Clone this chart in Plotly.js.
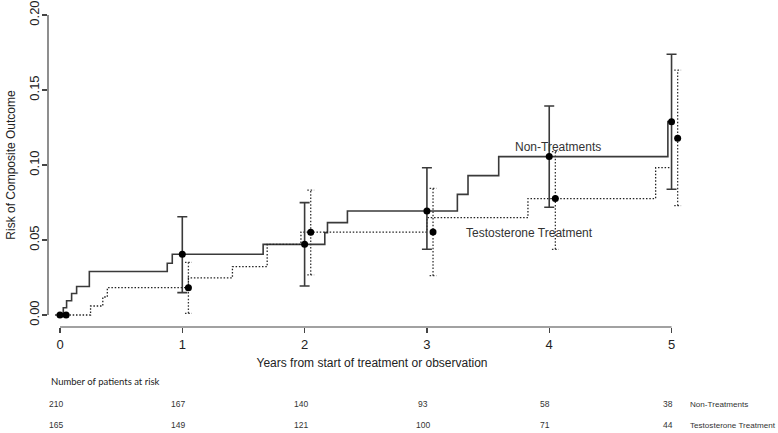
<!DOCTYPE html>
<html>
<head>
<meta charset="utf-8">
<script src="https://cdn.plot.ly/plotly-3.0.1.min.js"></script>
<style>html,body{margin:0;padding:0;background:#fff;}#chart{width:778px;height:433px;}</style>
</head>
<body>
<div id="chart"></div>
<script>
// Step curves (cumulative risk)
var nonStepTime  = [0, 0.027, 0.054, 0.095, 0.136, 0.24, 0.877, 0.918, 1.661, 2.165, 2.187, 2.35, 3.249, 3.336, 3.587, 4.97, 5.0];
var nonStepRisk  = [0, 0.0048, 0.0095, 0.0143, 0.019, 0.029, 0.0345, 0.0405, 0.0471, 0.0549, 0.0616, 0.0693, 0.0804, 0.0929, 0.1056, 0.1289, 0.1289];
var testStepTime = [0.05, 0.25, 0.35, 0.387, 1.05, 1.41, 1.694, 1.97, 3.0, 3.826, 4.87, 5.0];
var testStepRisk = [0, 0.006, 0.012, 0.0182, 0.0248, 0.0322, 0.0471, 0.0553, 0.0649, 0.0776, 0.0982, 0.0982];

// Yearly point estimates with confidence intervals
var nonTime  = [0, 1, 2, 3, 4, 5];
var nonEst   = [0, 0.0405, 0.0471, 0.0693, 0.1056, 0.1289];
var nonLo    = [0, 0.0149, 0.0193, 0.0438, 0.0718, 0.0838];
var nonHi    = [0, 0.0655, 0.0749, 0.0982, 0.1393, 0.1738];
var testTime = [0.05, 1.05, 2.05, 3.05, 4.05, 5.05];
var testEst  = [0, 0.0182, 0.0551, 0.0553, 0.0776, 0.1178];
var testLo   = [0, 0.0011, 0.0267, 0.0262, 0.0438, 0.0729];
var testHi   = [0, 0.0351, 0.0833, 0.0844, 0.1089, 0.1633];

// Risk table
var riskYears   = [0, 1, 2, 3, 4, 5];
var atRiskNon   = [210, 167, 140, 93, 58, 38];
var atRiskTest  = [165, 149, 121, 100, 71, 44];
var groupNames  = ["Non-Treatments", "Testosterone Treatment"];

var xTicks = [0, 1, 2, 3, 4, 5];
var yTicks = [0, 0.05, 0.10, 0.15, 0.20];
var yTickText = ["0.00", "0.05", "0.10", "0.15", "0.20"];

var CAP = 0.028; // half-width of dotted caps in years (style)
var DOTS = '1.5px,1.8px';

// Build dotted CI segments from data
var dx = [], dy = [];
for (var i = 0; i < testTime.length; i++) {
  if (testHi[i] === testLo[i]) continue;
  dx.push(testTime[i], testTime[i], null);
  dy.push(testLo[i], testHi[i], null);
  dx.push(testTime[i] - CAP, testTime[i] + CAP, null);
  dy.push(testHi[i], testHi[i], null);
  dx.push(testTime[i] - CAP, testTime[i] + CAP, null);
  dy.push(testLo[i], testLo[i], null);
}

var traces = [
  {x: nonStepTime, y: nonStepRisk, mode: 'lines', line: {shape: 'hv', color: '#3a3a3a', width: 1.6}, hoverinfo: 'skip', showlegend: false},
  {x: testStepTime, y: testStepRisk, mode: 'lines', line: {shape: 'hv', color: '#222', width: 1.3, dash: DOTS}, hoverinfo: 'skip', showlegend: false},
  {x: dx, y: dy, mode: 'lines', line: {color: '#333', width: 1.3, dash: DOTS}, hoverinfo: 'skip', showlegend: false},
  {x: nonTime, y: nonEst, mode: 'markers', marker: {color: '#000', size: 7},
   error_y: {type: 'data', symmetric: false,
     array: nonHi.map(function(v, i){return v - nonEst[i];}),
     arrayminus: nonEst.map(function(v, i){return v - nonLo[i];}),
     color: '#3a3a3a', thickness: 1.6, width: 5},
   showlegend: false},
  {x: testTime, y: testEst, mode: 'markers', marker: {color: '#000', size: 7}, showlegend: false}
];

var annotations = [
  {text: groupNames[0], x: 3.70, y: 0.1122, xref: 'x', yref: 'y', xanchor: 'left', yanchor: 'middle', showarrow: false, font: {family: 'Liberation Sans, Arial', size: 12, color: '#333'}},
  {text: groupNames[1], x: 3.303, y: 0.0545, xref: 'x', yref: 'y', xanchor: 'left', yanchor: 'middle', showarrow: false, font: {family: 'Liberation Sans, Arial', size: 12, color: '#333'}},
  {text: 'Number of patients at risk', x: 0.0015, y: -0.1667, xref: 'paper', yref: 'paper', xanchor: 'left', yanchor: 'middle', showarrow: false, font: {family: 'Lato, Open Sans', size: 9.5, color: '#222'}},
  {text: groupNames[0], x: 0.988, y: -0.2377, xref: 'paper', yref: 'paper', xanchor: 'left', yanchor: 'middle', showarrow: false, font: {family: 'Liberation Sans, Arial', size: 8.1, color: '#333'}},
  {text: groupNames[1], x: 0.988, y: -0.3025, xref: 'paper', yref: 'paper', xanchor: 'left', yanchor: 'middle', showarrow: false, font: {family: 'Liberation Sans, Arial', size: 8.1, color: '#333'}}
];
riskYears.forEach(function(t, i) {
  annotations.push({text: String(atRiskNon[i]), x: t, y: -0.2377, xref: 'x', yref: 'paper', xanchor: 'center', yanchor: 'middle', xshift: -4, showarrow: false, font: {family: 'Liberation Sans, Arial', size: 8.5, color: '#333'}});
  annotations.push({text: String(atRiskTest[i]), x: t, y: -0.3025, xref: 'x', yref: 'paper', xanchor: 'center', yanchor: 'middle', xshift: -4, showarrow: false, font: {family: 'Liberation Sans, Arial', size: 8.5, color: '#333'}});
});

var layout = {
  width: 778, height: 433,
  margin: {l: 48, r: 82, t: 3, b: 106},
  paper_bgcolor: '#fff', plot_bgcolor: '#fff',
  showlegend: false,
  font: {family: 'Liberation Sans, Arial', color: '#222'},
  xaxis: {
    range: [-0.098, 5.2], showgrid: false, zeroline: false, showline: false,
    tickmode: 'array', tickvals: xTicks, ticks: 'outside', ticklen: 5, tickwidth: 1.2, tickcolor: '#444',
    tickfont: {size: 13, color: '#222'}, ticklabelstandoff: 0,
    title: {text: 'Years from start of treatment or observation', font: {size: 12, color: '#222'}, standoff: 8}
  },
  yaxis: {
    range: [-0.008, 0.208], showgrid: false, zeroline: false, showline: false,
    tickmode: 'array', tickvals: yTicks, ticktext: yTickText, ticks: 'outside', ticklen: 5, tickwidth: 1.2, tickcolor: '#444',
    tickangle: -90, tickfont: {size: 13, color: '#222'}, ticklabelstandoff: -2,
    title: {text: 'Risk of Composite Outcome', font: {size: 12, color: '#222'}, standoff: 8}
  },
  shapes: [
    {type: 'line', xref: 'x', yref: 'paper', x0: xTicks[0], x1: xTicks[xTicks.length - 1], y0: 0, y1: 0, line: {color: '#444', width: 1.2}},
    {type: 'line', xref: 'paper', yref: 'y', x0: 0, x1: 0, y0: yTicks[0], y1: yTicks[yTicks.length - 1], line: {color: '#444', width: 1.2}}
  ],
  annotations: annotations
};

Plotly.newPlot('chart', traces, layout, {displayModeBar: false, staticPlot: true});
</script>
</body>
</html>
